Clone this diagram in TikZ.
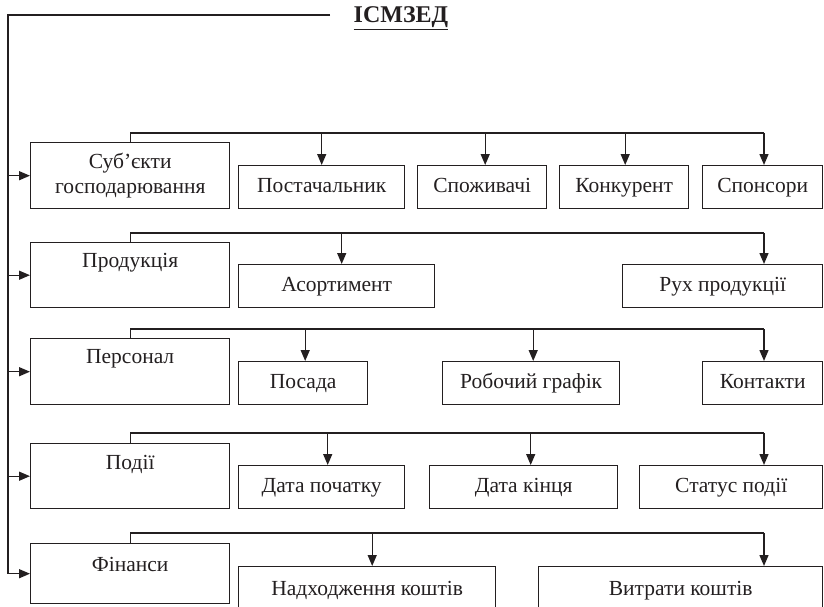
\documentclass[tikz,border=0pt]{standalone}
\usepackage{fontspec}
\setmainfont{Liberation Serif}
\usepackage{tikz}
\usetikzlibrary{arrows.meta,calc}
\definecolor{ink}{HTML}{231F20}

\tikzset{
  mainbox/.style={draw=ink, line width=1.4pt, minimum width=199pt, minimum height=65pt,
    anchor=north west, inner sep=0pt, align=center},
  subbox/.style={draw=ink, line width=1.4pt, minimum height=43pt, anchor=north west, inner sep=0pt,
    text height=14pt, text depth=4pt},
  toptext/.style={label={[anchor=center, yshift=-21pt, text=ink]north:#1}},
  link/.style={draw=ink, line width=1.4pt},
  arr/.style={link, -{Triangle[length=11pt,width=9pt]}}
}

\begin{document}
\begin{tikzpicture}[x=1pt, y=-1pt, font=\fontsize{21.5}{25}\selectfont, text=ink]
\useasboundingbox (0,0) rectangle (824,607);
\clip (0,0) rectangle (824,607);

% title and the trunk on the left
\node[font=\fontsize{24}{28}\selectfont\bfseries] (title) at (401,18) {\underline{ІСМЗЕД}};
\coordinate (top) at (330,15);
\coordinate (trunk) at (8,15);
\coordinate (rcol) at (764,0);

% main boxes
\node[mainbox, minimum height=66pt] (subj) at (30,142) {Суб'єкти\\господарювання};
\node[mainbox, toptext=Продукція] (prod) at (30,242) {};
\node[mainbox, minimum height=66pt, toptext=Персонал] (pers) at (30,338) {};
\node[mainbox, toptext=Події] (evnt) at (30,443) {};
\node[mainbox, minimum height=60pt, toptext=Фінанси] (fin) at (30,543) {};

% row 1
\node[subbox, minimum width=166pt] (post) at (238,165) {Постачальник};
\node[subbox, minimum width=129pt] (spoz) at (417,165) {Споживачі};
\node[subbox, minimum width=129pt] (konk) at (559,165) {Конкурент};
\node[subbox, minimum width=120pt] (spon) at (702,165) {Спонсори};

% row 2
\node[subbox, minimum width=196pt] (asort) at (238,264) {Асортимент};
\node[subbox, minimum width=200pt] (ruh) at (622,264) {Рух продукції};

% row 3
\node[subbox, minimum width=129pt] (posad) at (238,361) {Посада};
\node[subbox, minimum width=177pt] (grafik) at (442,361) {Робочий графік};
\node[subbox, minimum width=120pt] (kont) at (702,361) {Контакти};

% row 4
\node[subbox, minimum width=166pt] (dpoch) at (238,465) {Дата початку};
\node[subbox, minimum width=188pt] (dkin) at (429,465) {Дата кінця};
\node[subbox, minimum width=183pt] (stat) at (639,465) {Статус події};

% row 5
\node[subbox, minimum width=257pt, minimum height=48pt] (nadh) at (238,566) {Надходження коштів};
\node[subbox, minimum width=284pt, minimum height=48pt] (vytr) at (538,566) {Витрати коштів};

% trunk and arrows into the main boxes
\draw[link] (top) -- (trunk) -- (trunk |- fin.west);
\foreach \m in {subj,prod,pers,evnt,fin}
  \draw[arr] (trunk |- \m.west) -- (\m.west);

% brackets over each row
\draw[link] (subj.north) -- ++(0,-9) coordinate (b1) -- (b1 -| rcol);
\draw[link] (prod.north) -- ++(0,-9) coordinate (b2) -- (b2 -| rcol);
\draw[link] (pers.north) -- ++(0,-9) coordinate (b3) -- (b3 -| rcol);
\draw[link] (evnt.north) -- ++(0,-10) coordinate (b4) -- (b4 -| rcol);
\draw[link] (fin.north) -- ++(0,-10) coordinate (b5) -- (b5 -| rcol);

% arrows down to the sub boxes
\foreach \n/\s in {post/0,spoz/3,konk/1}
  \draw[arr] ([xshift=\s pt]\n.north |- b1) -- ([xshift=\s pt]\n.north);
\draw[arr] (rcol |- b1) -- (rcol |- spon.north);
\draw[arr] ([xshift=5pt]asort.north |- b2) -- ([xshift=5pt]asort.north);
\draw[arr] (rcol |- b2) -- (rcol |- ruh.north);
\foreach \n/\s in {posad/2,grafik/2}
  \draw[arr] ([xshift=\s pt]\n.north |- b3) -- ([xshift=\s pt]\n.north);
\draw[arr] (rcol |- b3) -- (rcol |- kont.north);
\foreach \n/\s in {dpoch/6,dkin/7}
  \draw[arr] ([xshift=\s pt]\n.north |- b4) -- ([xshift=\s pt]\n.north);
\draw[arr] (rcol |- b4) -- (rcol |- stat.north);
\draw[arr] ([xshift=5pt]nadh.north |- b5) -- ([xshift=5pt]nadh.north);
\draw[arr] (rcol |- b5) -- (rcol |- vytr.north);

\end{tikzpicture}
\end{document}
